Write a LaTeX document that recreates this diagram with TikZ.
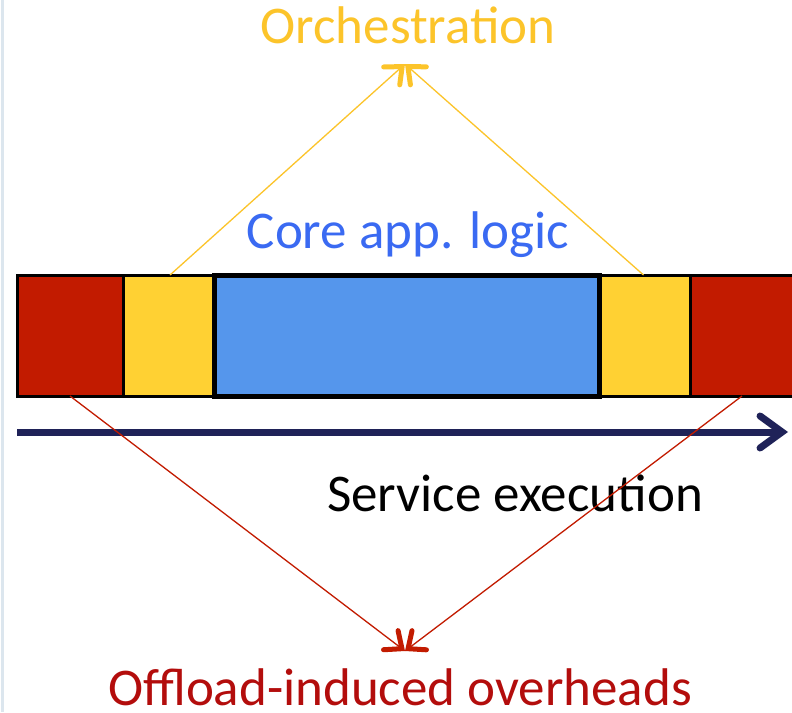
\documentclass[tikz,border=0pt]{standalone}
\usepackage{fontspec}
\setmainfont{Carlito}
\usetikzlibrary{arrows.meta}
\definecolor{segred}{HTML}{C21B00}
\definecolor{segyel}{HTML}{FFD133}
\definecolor{segblue}{HTML}{5596EC}
\definecolor{navy}{HTML}{1F2258}
\definecolor{txtyel}{HTML}{FCC42A}
\definecolor{txtblue}{HTML}{3A6AF2}
\definecolor{txtred}{HTML}{B30D0C}
\definecolor{edge}{HTML}{DCE6EE}
\tikzset{
  seg/.style={draw=black, line width=3pt, minimum height=121pt, inner sep=0pt, outer sep=0pt, anchor=north west},
  label/.style={inner sep=0pt, anchor=base, font=\fontsize{53}{58}\selectfont},
  orch/.style={draw=txtyel, line width=1.3pt, -{Straight Barb[length=14pt,width=24pt,line width=5pt,line cap=round]}},
  ovh/.style={draw=segred, line width=1.3pt, -{Straight Barb[length=14pt,width=24pt,line width=5pt,line cap=round]}},
}
\begin{document}
\begin{tikzpicture}[x=1pt,y=-1pt]
\useasboundingbox (0,0) rectangle (792,712);
\fill[white] (0,0) rectangle (792,712);
\draw[edge, line width=3pt] (2,0) -- (2,712);
% segments
\node[seg, fill=segred, minimum width=106pt] (r1) at (17,275) {};
\node[seg, fill=segyel, minimum width=91pt] (y1) at (123,275) {};
\node[seg, fill=segyel, minimum width=91pt] (y2) at (599,275) {};
\node[seg, fill=segred, minimum width=110pt] (r2) at (690,275) {};
\node[seg, fill=segblue, minimum width=385pt, line width=5pt] (core) at (214,275) {};
% axis
\coordinate (ax0) at (17,432);
\coordinate (ax1) at (788,432);
\draw[navy, line width=7pt, -{Straight Barb[length=22pt,width=32pt,line width=7pt,line cap=round]}] (ax0) -- (ax1);
% labels
\node[label, text=txtyel] (orchl) at (408,43) {Orchestration};
\node[label, text=txtblue] (corel) at (408,248) {Core app. logic};
\node[label, text=black] (servl) at (515,511) {Service execution};
\node[label, text=txtred] (ovhl) at (400,705) {Offload-induced overheads};
% connectors
\coordinate (topapex) at (405,64);
\coordinate (botapex) at (405,651);
\draw[orch] (y1.north) ++(1.5,0) coordinate (y1p) -- (topapex);
\draw[orch] (y2.north) ++(-1,0) coordinate (y2p) -- (topapex);
\draw[ovh] (r1.south) coordinate (r1p) -- (botapex);
\draw[ovh] (r2.south) ++(-3,0) coordinate (r2p) -- (botapex);
\end{tikzpicture}
\end{document}
